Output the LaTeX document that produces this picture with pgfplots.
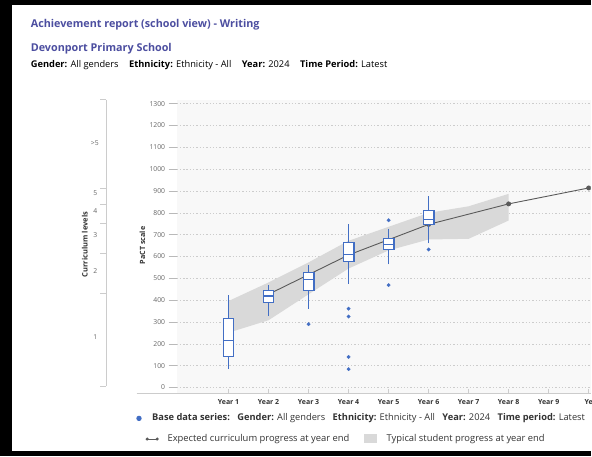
\documentclass[border=0pt]{standalone}
\usepackage{fontspec}
\setmainfont{Open Sans}
\usepackage{pgfplots}
\pgfplotsset{compat=1.18}
\definecolor{titleblue}{RGB}{76,78,160}
\definecolor{boxblue}{RGB}{66,110,196}
\definecolor{bandgray}{RGB}{217,217,217}
\definecolor{bggray}{RGB}{248,248,248}
\definecolor{linegray}{RGB}{90,90,90}
\definecolor{gridgray}{RGB}{204,204,204}
\definecolor{axisgray}{RGB}{204,204,204}
\definecolor{ticktext}{RGB}{102,102,102}
\definecolor{darktext}{RGB}{51,51,51}
% box: #1 position, #2 lower whisker, #3 q1, #4 median, #5 q3, #6 upper whisker
\newcommand\bx[6]{%
  \addplot[color=boxblue, line width=1.1pt] coordinates {(#1,#2) (#1,#3)};
  \addplot[color=boxblue, line width=1.1pt] coordinates {(#1,#5) (#1,#6)};
  \addplot[color=boxblue, draw=boxblue, fill=white, line width=1.1pt, line join=miter] coordinates {(#1-0.135,#3) (#1+0.135,#3) (#1+0.135,#5) (#1-0.135,#5) (#1-0.135,#3)};
  \addplot[color=boxblue, line width=1.1pt] coordinates {(#1-0.135,#4) (#1+0.135,#4)};
}
\begin{document}
\begin{tikzpicture}[x=1pt,y=1pt]
\fill[white] (0,0) rectangle (592,457);
% frame
\fill[black] (0,0) rectangle (12,457);
\fill[black] (0,452) rectangle (592,457);
\fill[black] (0,0) rectangle (592,5);
% titles
\node[anchor=base west, inner sep=0, text=titleblue, font=\fontsize{10.8}{12}\selectfont\bfseries] at (30.7,{457-28}) {Achievement report (school view) - Writing};
\node[anchor=base west, inner sep=0, text=titleblue, font=\fontsize{10.8}{12}\selectfont\bfseries] at (30.7,{457-51.7}) {Devonport Primary School};
\node[anchor=base west, inner sep=0, text=black, font=\fontsize{9.3}{11}\selectfont] at (30.7,{457-67.7}) {\textbf{Gender:} All genders\hspace{10.5pt}\textbf{Ethnicity:} Ethnicity - All\hspace{10.5pt}\textbf{Year:} 2024\hspace{10.5pt}\textbf{Time Period:} Latest};
% curriculum levels scale
\draw[axisgray, line width=0.7pt] (106.3,{457-100}) -- (106.3,{457-387});
\foreach \py in {100,188.3,204.3,224.3,254.3,294,387} {
  \draw[axisgray, line width=0.7pt] (100.5,{457-\py}) -- (106.3,{457-\py});
}
\begin{scope}[every node/.style={text=ticktext, font=\fontsize{6.8}{8}\selectfont, inner sep=0, anchor=center}]
\node at (95,{457-143}) {>5};
\node at (95.5,{457-194}) {5};
\node at (95.5,{457-211.7}) {4};
\node at (95.5,{457-235.7}) {3};
\node at (95.5,{457-271.7}) {2};
\node at (95.5,{457-338.3}) {1};
\end{scope}
\node[rotate=90, text=darktext, font=\fontsize{7.5}{9}\selectfont\bfseries, inner sep=0] at (85,{457-245}) {Curriculum levels};
\node[rotate=90, text=darktext, font=\fontsize{7.2}{9}\selectfont\bfseries, inner sep=0] at (142.7,{457-246}) {PaCT scale};
\begin{axis}[
  at={(177pt,63pt)}, anchor=south west, scale only axis,
  width=415pt, height=294pt,
  xmin=-0.297, xmax=10.051, ymin=-26, ymax=1318,
  axis line style={draw=none},
  axis background/.style={fill=bggray},
  ymajorgrids, major grid style={gridgray, line width=0.6pt, dash pattern=on 1.3pt off 2pt},
  ytick={0,100,...,1300},
  xtick={1,...,10},
  xticklabels={Year 1,Year 2,Year 3,Year 4,Year 5,Year 6,Year 7,Year 8,Year 9,\makebox[0pt][l]{\kern-4pt Year 10}},
  ytick pos=left, xtick pos=bottom,
  tick align=outside, major tick length=8pt,
  ytick style={draw=gray!55, line width=0.6pt},
  xtick style={draw=none},
  yticklabel style={font=\fontsize{6.8}{8}\selectfont, text=ticktext},
  xticklabel style={font=\fontsize{7}{8}\selectfont\bfseries, text=darktext, yshift=5pt},
  /pgf/number format/assume math mode=true,
  /pgf/number format/1000 sep={},
  clip marker paths=true,
]
\addplot[fill=bandgray, draw=none] coordinates {(1,396) (2,481) (3,573) (4,672) (5,736) (6,800) (7,830) (8,887) (8,765) (7,681) (6,678) (5,628) (4,545) (3,427) (2,308) (1,251) (1,396)};
\addplot[linegray, line width=0.9pt, mark=*, mark size=2pt, mark options={fill=linegray, draw=linegray}] coordinates {(2,427) (4,607) (6,747) (8,841) (10,914)};
\bx{1}{84}{140}{216}{317}{422}
\bx{2}{327}{391}{419}{446}{469}
\bx{3}{361}{446}{495}{526}{560}
\bx{4}{475}{579}{609}{663}{747}
\bx{5}{564}{632}{655}{681}{727}
\bx{6}{660}{747}{769}{812}{879}
\addplot[only marks, color=boxblue, mark=*, mark size=1.8pt, mark options={fill=boxblue, draw=boxblue, line width=0.2pt}] coordinates {(3,290) (4,361) (4,325) (4,140) (4,84) (5,766) (5,469) (6,632)};
\end{axis}
% x axis line and ticks
\draw[axisgray, line width=0.8pt] (137,63) -- (592,63);
\foreach \k in {1,...,10} {
  \draw[axisgray, line width=0.7pt] ({177+(\k+0.297)*40.104},63) -- ++(0,4.5);
}
% legend
\fill[boxblue] (139.3,{457-419.3}) circle (2.7);
\node[anchor=base west, inner sep=0, text=darktext, font=\fontsize{9.3}{11}\selectfont] at (152.3,{457-421.7}) {\textbf{Base data series:}\hspace{7.5pt}\textbf{Gender:} All genders\hspace{7.5pt}\textbf{Ethnicity:} Ethnicity - All\hspace{7.5pt}\textbf{Year:} 2024\hspace{7.5pt}\textbf{Time period:} Latest};
\draw[linegray, line width=0.8pt] (146.7,{457-440}) -- (158.3,{457-440});
\fill[linegray] (147.5,{457-440}) circle (1.7);
\fill[linegray] (157.5,{457-440}) circle (1.7);
\node[anchor=base west, inner sep=0, text=darktext, font=\fontsize{9.4}{11}\selectfont] at (167.7,{457-442.7}) {Expected curriculum progress at year end};
\fill[bandgray] (365,{457-444.3}) rectangle (378.3,{457-435.3});
\node[anchor=base west, inner sep=0, text=darktext, font=\fontsize{9.4}{11}\selectfont] at (387.3,{457-442.7}) {Typical student progress at year end};
\end{tikzpicture}
\end{document}
